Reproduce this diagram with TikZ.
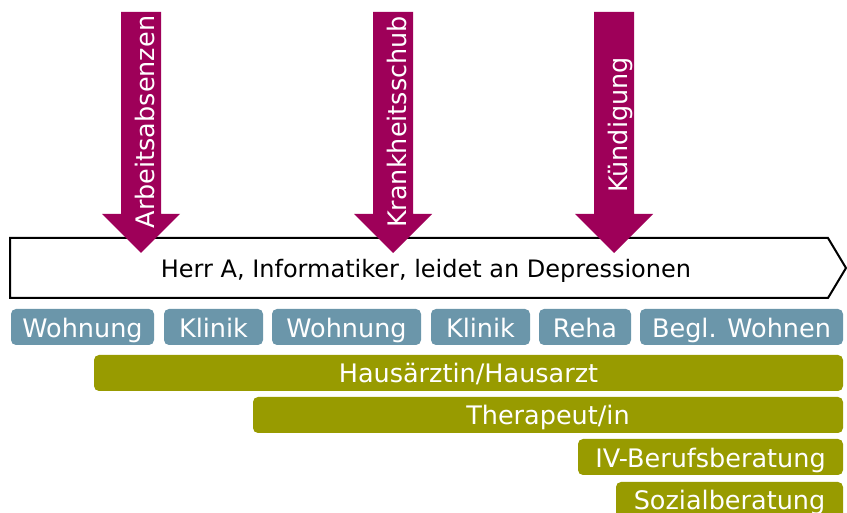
\documentclass[tikz,border=0pt]{standalone}
\usepackage{fontspec}
\setmainfont{DejaVu Sans}
\definecolor{ereignis}{RGB}{158,0,89}
\definecolor{ort}{RGB}{107,150,170}
\definecolor{stelle}{RGB}{152,155,0}

\begin{document}
\begin{tikzpicture}[x=1pt,y=1pt,
    every node/.style={font=\fontsize{24}{28}\selectfont},
    ortbox/.style={fill=ort,text=white,rounded corners=5pt,inner sep=0pt,
        font=\fontsize{25.5}{30}\selectfont,
        minimum height=36pt,text height=21pt,text depth=0pt},
    stellebox/.style={fill=stelle,text=white,rounded corners=5pt,inner sep=0pt,
        font=\fontsize{25.5}{30}\selectfont,
        minimum height=36pt,text height=20pt,text depth=0pt}]
    \useasboundingbox (0,0) rectangle (847,512);
    % Verlauf
    \draw[line width=2pt] (10,274)--(828,274)--(846,244)--(828,214)--(10,214)--cycle;
    \node[anchor=base] (verlauf) at (426,234) {Herr A, Informatiker, leidet an Depressionen};
    % Ereignisse
    \foreach \x/\y/\name/\txt in {141/390/arbeit/Arbeitsabsenzen,393/390/schub/Krankheitsschub,614/387/kuend/Kündigung}{
        \fill[ereignis] (\x-20,500)--(\x+20,500)--(\x+20,298)--(\x+39,298)--(\x,259)
            --(\x-39,298)--(\x-20,298)--cycle;
        \node[rotate=90,anchor=base,text=white,font=\fontsize{25.5}{30}\selectfont] (\name) at (\x+13,\y) {\txt};
    }
    % Wohnorte
    \node[ortbox,minimum width=143pt] (wohnung1) at (82.5,185) {Wohnung};
    \node[ortbox,minimum width=99pt] (klinik1) at (213.5,185) {Klinik};
    \node[ortbox,minimum width=149pt] (wohnung2) at (346.5,185) {Wohnung};
    \node[ortbox,minimum width=99pt] (klinik2) at (480.5,185) {Klinik};
    \node[ortbox,minimum width=92pt] (reha) at (585,185) {Reha};
    \node[ortbox,minimum width=203pt] (begl) at (741.5,185) {Begl. Wohnen};
    % Fachstellen
    \node[stellebox,minimum width=749pt] (hausarzt) at (468.5,139) {Hausärztin/Hausarzt};
    \node[stellebox,minimum width=590pt] (therapie) at (548,97) {Therapeut/in};
    \node[stellebox,minimum width=265pt] (iv) at (710.5,55) {IV-Berufsberatung};
    \node[stellebox,minimum width=227pt] (sozial) at (729.5,12) {Sozialberatung};
\end{tikzpicture}
\end{document}
